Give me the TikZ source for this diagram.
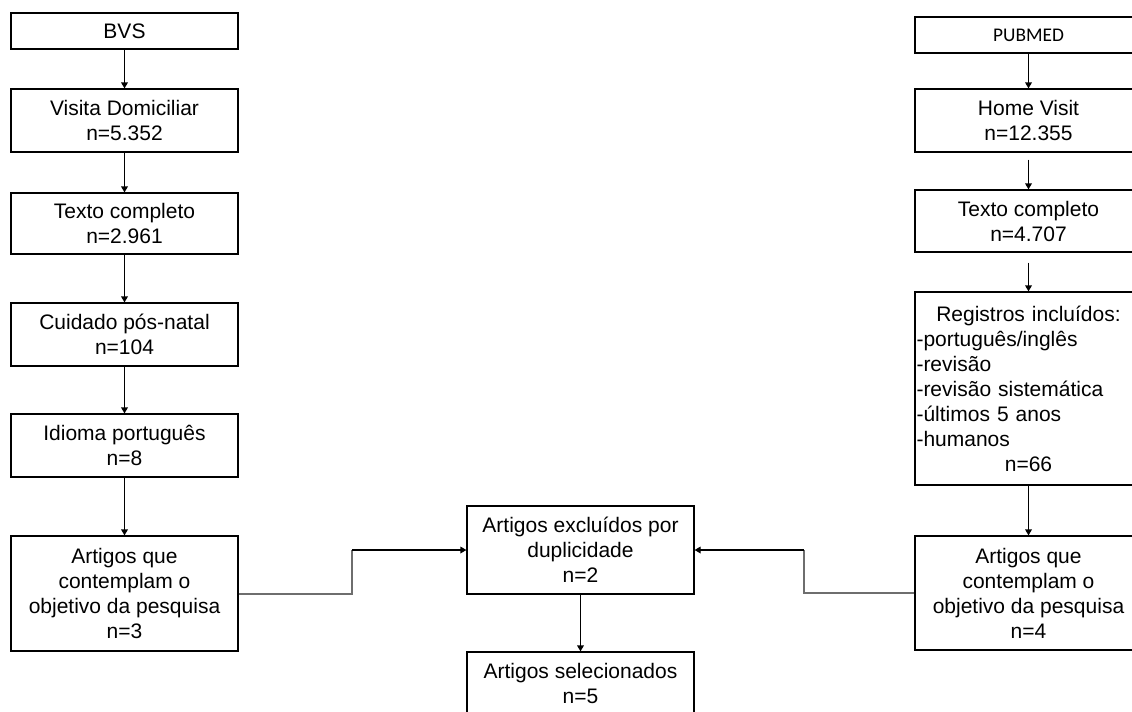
\documentclass[tikz,border=0pt]{standalone}
\usepackage{fontspec}
\setmainfont{Liberation Sans}
\newfontfamily\calibrifont{Carlito}
\usetikzlibrary{arrows.meta}
\definecolor{elbow}{RGB}{110,110,110}
\begin{document}
\begin{tikzpicture}[x=0.75pt,y=-0.75pt,
  box/.style n args={4}{draw=black, line width=0.9pt, inner sep=0pt, align=center,
    at={({(#1+#3)/2},{(#2+#4)/2})},
    minimum width={(#3-#1)*0.75pt}, minimum height={(#4-#2)*0.75pt},
    font=\fontsize{15.75}{18.75}\selectfont},
  arr/.style={-{Triangle[width=5pt,length=4.5pt]}, line width=0.9pt, black},
  grayline/.style={line width=1.5pt, elbow}]
\useasboundingbox (0,0) rectangle (1132,711);
% left column
\node[box={11}{13}{238}{49}] (bvs) {BVS};
\node[box={11}{89}{238}{152}] (vd) {Visita Domiciliar\\n=5.352};
\node[box={11}{193}{238}{254}] (tc1) {Texto completo\\n=2.961};
\node[box={11}{303}{238}{366}] (cp) {Cuidado pós-natal\\n=104};
\node[box={11}{414}{238}{477}] (ip) {Idioma português\\n=8};
\node[box={11}{536}{238}{651}] (ac1) {Artigos que\\contemplam o\\objetivo da pesquisa\\n=3};
% middle
\node[box={467}{506}{694}{594}] (ex) {Artigos excluídos por\\duplicidade\\n=2};
\node[box={467}{652}{694}{715}] (sel) {Artigos selecionados\\n=5};
% right column
\node[box={915}{17}{1142}{53}, font=\calibrifont\fontsize{14.5}{17}\selectfont] (pub) {PUBMED};
\node[box={915}{89}{1142}{152}] (hv) {Home Visit\\n=12.355};
\node[box={915}{190}{1142}{252}] (tc2) {Texto completo\\n=4.707};
\node[box={915}{292}{1142}{485}, text width=168pt, align=left] (reg) {\makebox[\linewidth]{Registros incluídos:}\\-português/inglês\\-revisão\\-revisão sistemática\\-últimos 5 anos\\-humanos\\\makebox[\linewidth]{n=66}};
\node[box={915}{536}{1142}{650}] (ac2) {Artigos que\\contemplam o\\objetivo da pesquisa\\n=4};
% vertical arrows
\draw[arr] (bvs.south) -- (vd.north);
\draw[arr] (vd.south) -- (tc1.north);
\draw[arr] (tc1.south) -- (cp.north);
\draw[arr] (cp.south) -- (ip.north);
\draw[arr] (ip.south) -- (ac1.north);
\draw[arr] (ex.south) -- (sel.north);
\draw[arr] (pub.south) -- (hv.north);
\draw[arr, shorten <=5.25pt] (hv.south) -- (tc2.north);
\draw[arr, shorten <=7.5pt] (tc2.south) -- (reg.north);
\draw[arr] (reg.south) -- (ac2.north);
% elbow connectors
\coordinate (lk) at (352,550);
\coordinate (rk) at (804,550);
\draw[grayline] (ac1.east) -| (lk);
\draw[arr] (lk) -- (ex.west);
\draw[grayline] (ac2.west) -| (rk);
\draw[arr] (rk) -- (ex.east);
\end{tikzpicture}
\end{document}
